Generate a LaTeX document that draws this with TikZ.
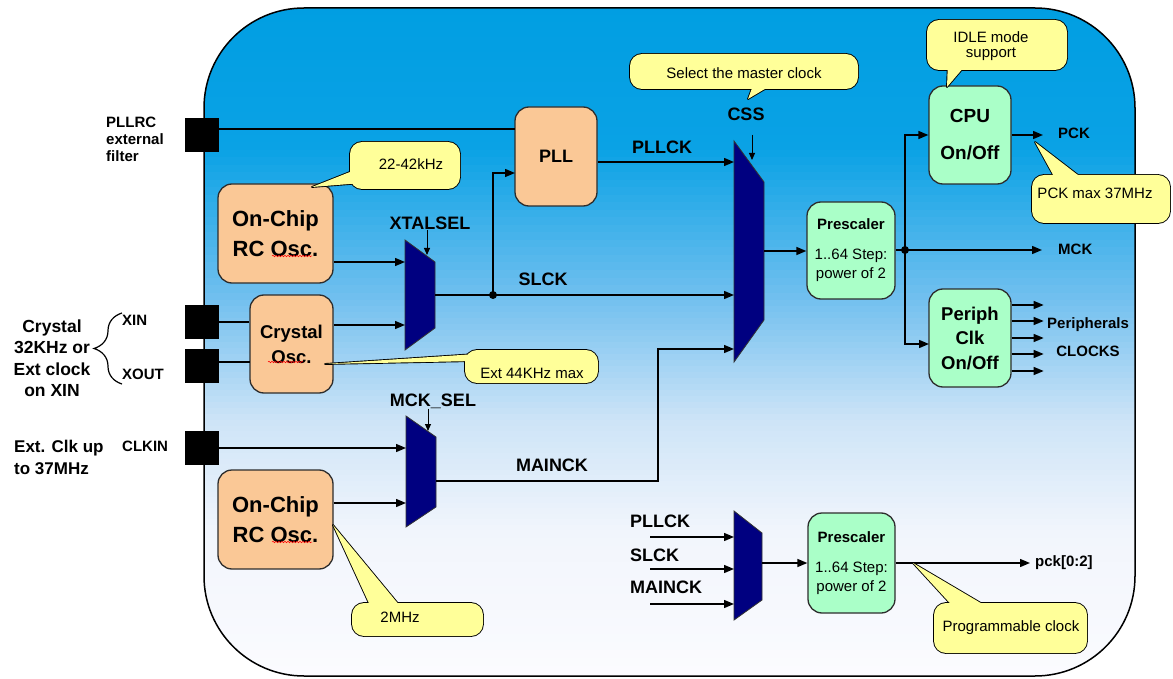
\documentclass[tikz,border=0pt]{standalone}
\usepackage{fontspec}
\setmainfont{Liberation Sans}
\usetikzlibrary{arrows.meta,decorations.pathmorphing,decorations.pathreplacing}
\definecolor{oboxc}{RGB}{250,200,150}
\definecolor{gboxc}{RGB}{170,255,200}
\definecolor{yelc}{RGB}{255,255,153}
\definecolor{muxc}{RGB}{0,0,128}
\definecolor{bgA}{RGB}{0,158,226}
\definecolor{bgB}{RGB}{10,162,229}
\definecolor{bgC}{RGB}{115,192,239}
\definecolor{bgD}{RGB}{205,228,247}
\definecolor{bgE}{RGB}{241,245,252}
\definecolor{bgF}{RGB}{252,252,255}
\definecolor{edgec}{RGB}{45,45,45}
\newcommand\fsz[2]{\fontsize{#1}{#2}\selectfont}
\newcommand\bubble[4]{%
  \draw[line width=1.8pt,line join=round] #3 -- #2 -- #4 -- cycle;
  \draw[line width=1.8pt,rounded corners=12pt] #1;
  \fill[yelc] #3 -- #2 -- #4 -- cycle;
  \fill[yelc,rounded corners=12pt] #1;
}
\begin{document}
\begin{tikzpicture}[x=1pt,y=-1pt,
  wire/.style={line width=1.4pt},
  arr/.style={wire,-{Triangle[length=10pt,width=8pt]}},
  sarr/.style={line width=1pt,-{Triangle[length=7pt,width=6pt]}},
  obox/.style={draw=edgec,line width=1.3pt,fill=oboxc,rounded corners=14pt,align=center,inner sep=0pt},
  gbox/.style={draw=edgec,line width=1.3pt,fill=gboxc,rounded corners=14pt,align=center,inner sep=0pt},
  pin/.style={fill=black,minimum size=34pt,inner sep=0pt},
  mux/.style={fill=muxc,draw=black!80,line width=0.8pt},
  sig/.style={font=\bfseries\fsz{18}{20},inner sep=0pt},
  lbl/.style={font=\bfseries\fsz{15}{17},inner sep=0pt},
  ctext/.style={font=\fsz{15}{15},align=center,inner sep=0pt},
  squig/.style={red,line width=0.5pt,decorate,decoration={snake,amplitude=0.8pt,segment length=3pt}}
]
\useasboundingbox (0,0) rectangle (1173,679);
\fill[white] (0,0) rectangle (1173,679);

% background body (gradient built from thin strips)
\begin{scope}
\clip[rounded corners=100pt] (204,8) rectangle (1135,676);
\foreach \ya/\yb/\ca/\cb in {0/150/bgA/bgB,150/300/bgB/bgC,300/420/bgC/bgD,420/530/bgD/bgE,530/690/bgE/bgF}{
  \foreach \k in {0,...,19}{
    \pgfmathsetmacro\ylo{\ya+(\yb-\ya)*\k/20}
    \pgfmathsetmacro\yhi{\ya+(\yb-\ya)*(\k+1)/20+0.6}
    \pgfmathsetmacro\pc{100-(\k+0.5)*5}
    \fill[\ca!\pc!\cb] (190,\ylo) rectangle (1150,\yhi);
  }
}
\end{scope}
\draw[line width=1.5pt,rounded corners=100pt] (204,8) rectangle (1135,676);

% pins
\node[pin] (pinPLL) at (202,135) {};
\node[pin] (pinXIN) at (202,322) {};
\node[pin] (pinXOUT) at (202,366) {};
\node[pin] (pinCLK) at (202,448) {};

% outside labels
\node[lbl,align=left,anchor=west] (tpllrc) at (106,139) {PLLRC\\external\\filter};
\node[font=\bfseries\fsz{17.5}{21.5},align=center] (tcrys) at (52,358) {Crystal\\32KHz or\\Ext clock\\on XIN};
\node[font=\bfseries\fsz{17}{22},align=left,anchor=west,inner sep=0pt] (text) at (14,457) {Ext. Clk up\\to 37MHz};
\node[lbl,anchor=west] (txin) at (122,320) {XIN};
\node[lbl,anchor=west] (txout) at (122,374) {XOUT};
\node[lbl,anchor=west] (tclkin) at (122,446) {CLKIN};
\coordinate (brb) at (122,384);
\coordinate (brt) at (122,313);
\draw[line width=1.2pt,decorate,decoration={brace,amplitude=28pt}] (brb) -- (brt);

% orange boxes
\node[obox,minimum width=115pt,minimum height=99pt,font=\bfseries\fsz{22}{30}] (rc1) at (275.5,233.5) {On-Chip\\RC Osc.};
\node[obox,minimum width=83pt,minimum height=98pt,font=\bfseries\fsz{18.5}{25}] (xtal) at (291.5,344) {Crystal\\Osc.};
\node[obox,minimum width=82pt,minimum height=99pt,font=\bfseries\fsz{18}{20}] (pll) at (556,156.5) {PLL};
\node[obox,minimum width=115pt,minimum height=99pt,font=\bfseries\fsz{22}{30}] (rc2) at (275.5,519.5) {On-Chip\\RC Osc.};
\draw[squig] (272,256) -- (312,256);
\draw[squig] (268,362) -- (303,362);
\draw[squig] (272,542) -- (312,542);

% green boxes
\node[gbox,minimum width=88pt,minimum height=97pt,font=\fsz{15}{19}] (pre1) at (851,250.5) {\textbf{Prescaler}\\[11pt]1..64 Step:\\power of 2};
\node[gbox,minimum width=82pt,minimum height=98pt,font=\bfseries\fsz{19}{37}] (cpu) at (970,135) {CPU\\On/Off};
\node[gbox,minimum width=82pt,minimum height=98pt,font=\bfseries\fsz{18.5}{24.5}] (peri) at (970,338) {Periph\\Clk\\On/Off};
\node[gbox,minimum width=87pt,minimum height=100pt,font=\fsz{15}{19}] (pre2) at (851.5,563) {\textbf{Prescaler}\\[11pt]1..64 Step:\\power of 2};

% muxes
\draw[mux] (405,240) -- (435,262) -- (435,328) -- (405,350) -- cycle;
\draw[mux] (734,141) -- (764,182) -- (764,320) -- (734,362) -- cycle;
\draw[mux] (406,416) -- (436,437) -- (436,507) -- (406,527) -- cycle;
\draw[mux] (734,511) -- (762,533) -- (762,600) -- (734,620) -- cycle;
\coordinate (m1in1) at (405,262);
\coordinate (m1in2) at (405,325);
\coordinate (m1out) at (435,295);
\coordinate (m1sel) at (427,255);
\coordinate (m2in1) at (734,162);
\coordinate (m2in2) at (734,295);
\coordinate (m2in3) at (734,349);
\coordinate (m2out) at (764,251);
\coordinate (m2sel) at (752,160);
\coordinate (m3in1) at (406,448);
\coordinate (m3in2) at (406,503);
\coordinate (m3out) at (436,481);
\coordinate (m3sel) at (428,431);
\coordinate (m4in1) at (734,537);
\coordinate (m4in2) at (734,569);
\coordinate (m4in3) at (734,604);
\coordinate (m4out) at (762,563);
\coordinate (dot1) at (493,295);
\coordinate (dot2) at (905,250);
\coordinate (pllin) at (515,173);
\coordinate (pllrcin) at (515,129);
\coordinate (xoutin) at (250,362);
\coordinate (periin) at (929,344);
\coordinate (mkbend) at (658,481);
\coordinate (mckend) at (1042,250);
\coordinate (pckend) at (1043,135);
\coordinate (pck2end) at (1030,563);
\coordinate (s1) at (650,537);
\coordinate (s2) at (650,569);
\coordinate (s3) at (650,604);

% signal labels
\node[sig] (lxtal) at (430,223) {XTALSEL};
\node[sig] (lcss) at (746,114) {CSS};
\node[sig] (lmcks) at (433,401) {MCK\_SEL};
\node[sig] (lpllck) at (662,147) {PLLCK};
\node[sig] (lslck) at (543,279) {SLCK};
\node[sig] (lmainck) at (552,465) {MAINCK};
\node[sig,anchor=west] (bpllck) at (630,521) {PLLCK};
\node[sig,anchor=west] (bslck) at (630,555) {SLCK};
\node[sig,anchor=west] (bmainck) at (630,587) {MAINCK};
\node[lbl,anchor=west] (lmck) at (1058,249) {MCK};
\node[lbl,anchor=west] (lpck) at (1058,133) {PCK};
\node[lbl] (lperi) at (1088,325) {Peripherals};
\node[lbl] (lclocks) at (1088,351) {CLOCKS};
\node[lbl,anchor=west] (lpck2) at (1035,563) {pck[0:2]};

% wires
\draw[wire] (pinPLL.east |- pllrcin) -- (pllrcin);
\draw[wire] (pinXIN.east) -- (xtal.west |- pinXIN.east);
\draw[wire] (pinXOUT.east |- xoutin) -- (xoutin);
\draw[arr] (rc1.east |- m1in1) -- (m1in1);
\draw[arr] (xtal.east |- m1in2) -- (m1in2);
\draw[arr] (m1out) -- (m2in2);
\draw[arr] (dot1) |- (pllin);
\fill (dot1) circle (4pt);
\draw[arr] (pll.east |- m2in1) -- (m2in1);
\draw[arr] (pinCLK.east) -- (m3in1);
\draw[arr] (rc2.east |- m3in2) -- (m3in2);
\draw[arr] (m3out) -- (mkbend) |- (m2in3);
\draw[sarr] (m1sel |- lxtal.south) -- (m1sel);
\draw[sarr] (m2sel |- lcss.south) ++(0,14) -- (m2sel);
\draw[sarr] (m3sel |- lmcks.south) -- (m3sel);
\draw[arr] (m2out) -- (pre1.west |- m2out);
\draw[wire] (pre1.east |- dot2) -- (dot2);
\draw[arr] (dot2) -- (mckend);
\draw[arr] (dot2) |- (cpu.west);
\draw[arr] (dot2) |- (periin);
\fill (dot2) circle (4pt);
\draw[arr] (cpu.east) -- (pckend);
\foreach \d in {33pt,17pt,0pt,-16pt,-33pt}
  \draw[arr] ([yshift=\d]peri.east) -- ++(32,0);
\draw[arr] (s1) -- (m4in1);
\draw[arr] (s2) -- (m4in2);
\draw[arr] (s3) -- (m4in3);
\draw[arr] (m4out) -- (pre2.west |- m4out);
\draw[arr] (pre2.east |- pck2end) -- (pck2end);

% callouts
\bubble{(350,142) rectangle (460,189)}{(312,187)}{(360,168)}{(362,183)}
\node[ctext] (c22) at (411,164) {22-42kHz};
\bubble{(630,54) rectangle (858,89)}{(748,99)}{(755,80)}{(780,80)}
\node[ctext] (csel) at (744,73) {Select the master clock};
\bubble{(927,20) rectangle (1067,70)}{(947,87)}{(948,60)}{(970,60)}
\node[ctext] (cidle) at (991,46.5) {IDLE mode\\support};
\bubble{(1032,175) rectangle (1170,223)}{(1035,142)}{(1057,182)}{(1087,182)}
\node[ctext] (cpck) at (1095,193) {PCK max 37MHz};
\bubble{(465,350) rectangle (598,383)}{(325,364)}{(476,354)}{(476,361)}
\node[ctext] (cext) at (532,373) {Ext 44KHz max};
\bubble{(352,603) rectangle (483,636)}{(333,525)}{(373,612)}{(405,612)}
\node[ctext] (c2m) at (400,617) {2MHz};
\bubble{(934,603) rectangle (1087,653)}{(913,563)}{(958,612)}{(996,612)}
\node[ctext] (cprog) at (1011,628) {Programmable clock};
\end{tikzpicture}
\end{document}
